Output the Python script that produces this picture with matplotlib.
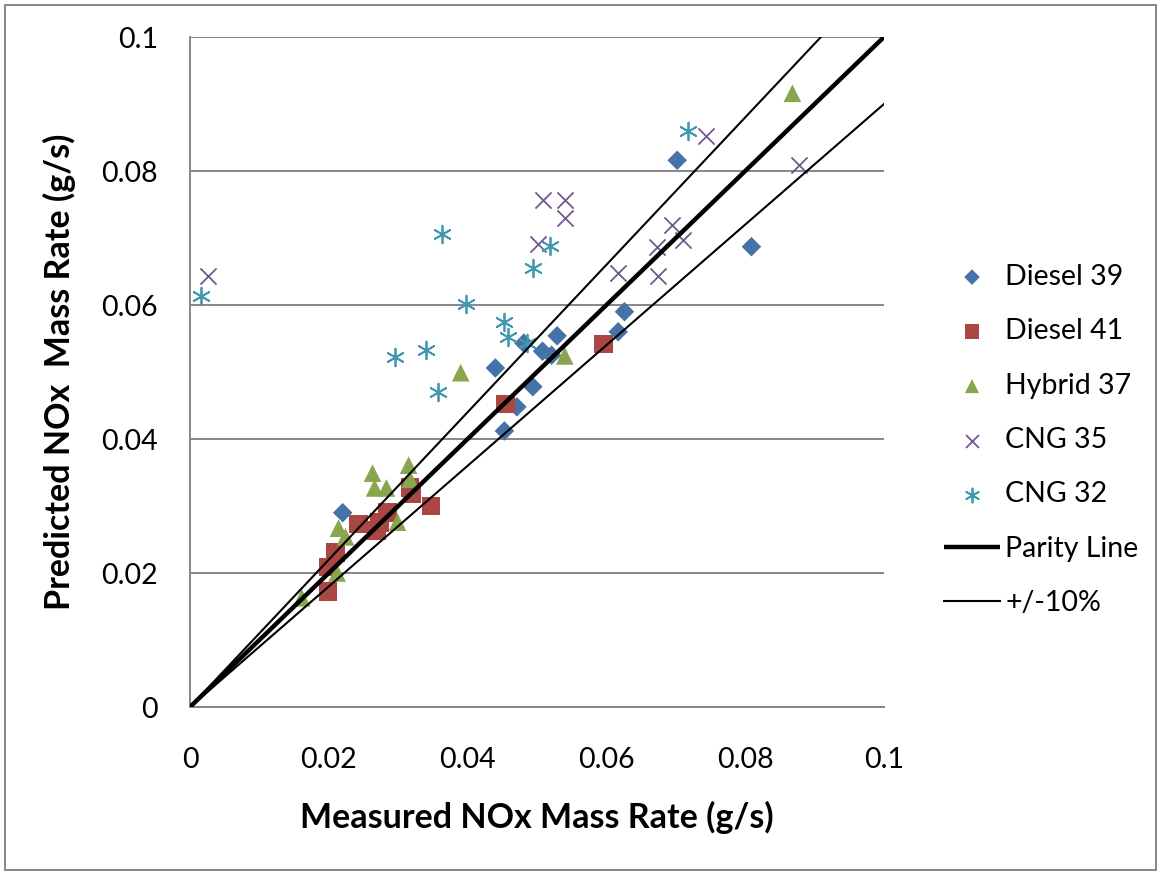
import matplotlib
matplotlib.use("Agg")
import matplotlib.pyplot as plt
from matplotlib.patches import Rectangle
import numpy as np

plt.rcParams['font.family'] = ['Lato', 'DejaVu Sans']

# Measured vs predicted NOx mass rate (g/s) per vehicle
diesel39_x = [0.0220, 0.0440, 0.0481, 0.0529, 0.0508, 0.0521, 0.0494, 0.0471, 0.0453,
              0.0617, 0.0626, 0.0702, 0.0809]
diesel39_y = [0.0290, 0.0506, 0.0543, 0.0554, 0.0531, 0.0525, 0.0478, 0.0448, 0.0412,
              0.0560, 0.0590, 0.0816, 0.0687]

diesel41_x = [0.0317, 0.0320, 0.0347, 0.0285, 0.0243, 0.0273, 0.0269, 0.0210, 0.0199,
              0.0199, 0.0455, 0.0596]
diesel41_y = [0.0328, 0.0318, 0.0300, 0.0290, 0.0273, 0.0275, 0.0263, 0.0231, 0.0209,
              0.0172, 0.0452, 0.0542]

hybrid37_x = [0.0263, 0.0315, 0.0266, 0.0283, 0.0317, 0.0299, 0.0214, 0.0224, 0.0212,
              0.0161, 0.0390, 0.0540, 0.0868]
hybrid37_y = [0.0349, 0.0361, 0.0327, 0.0327, 0.0340, 0.0276, 0.0267, 0.0254, 0.0200,
              0.0163, 0.0499, 0.0524, 0.0916]

cng35_x = [0.0026, 0.0508, 0.0540, 0.0540, 0.0502, 0.0744, 0.0878, 0.0694, 0.0673,
           0.0711, 0.0617, 0.0675]
cng35_y = [0.0643, 0.0757, 0.0757, 0.0730, 0.0691, 0.0852, 0.0809, 0.0719, 0.0687,
           0.0697, 0.0648, 0.0643]

cng32_x = [0.0016, 0.0363, 0.0397, 0.0295, 0.0340, 0.0358, 0.0519, 0.0494, 0.0452,
           0.0458, 0.0486, 0.0717]
cng32_y = [0.0613, 0.0706, 0.0601, 0.0522, 0.0533, 0.0470, 0.0688, 0.0655, 0.0575,
           0.0552, 0.0543, 0.0860]

x_ticks = [0, 0.02, 0.04, 0.06, 0.08, 0.1]
tick_labels = ['0', '0.02', '0.04', '0.06', '0.08', '0.1']
axis_max = 0.1
band = 0.10

fig = plt.figure(figsize=(11.61, 8.74), dpi=100)
ax = fig.add_axes([190 / 1161, 1 - 707 / 874, 694 / 1161, 670 / 874])

ms = 9
ax.scatter(diesel39_x, diesel39_y, marker='D', s=ms * 11, color='#4572A7',
           edgecolors='none', label='Diesel 39', zorder=3)
ax.scatter(diesel41_x, diesel41_y, marker='s', s=ms * 20, color='#AA4643',
           edgecolors='none', label='Diesel 41', zorder=3)
ax.scatter(hybrid37_x, hybrid37_y, marker='^', s=ms * 18, color='#89A54E',
           edgecolors='none', label='Hybrid 37', zorder=3)
ax.scatter(cng35_x, cng35_y, marker='x', s=ms * 15, color='#71588F',
           linewidths=1.3, label='CNG 35', zorder=3)
ax.scatter(cng32_x, cng32_y, marker=(6, 2, 0), s=ms * 18, color='#4198AF',
           linewidths=1.3, label='CNG 32', zorder=3)

# Parity line and +/-10% band
xx = np.array([0, axis_max])
ax.plot(xx, xx, color='black', lw=3.2, label='Parity Line', zorder=4,
        solid_capstyle='butt')
ax.plot(xx, xx * (1 + band), color='black', lw=1.5, label='+/-10%', zorder=4)
ax.plot(xx, xx * (1 - band), color='black', lw=1.5, zorder=4)

ax.set_xlim(0, axis_max)
ax.set_ylim(0, axis_max)
ax.set_xticks(x_ticks)
ax.set_xticklabels(tick_labels)
ax.set_yticks(x_ticks)
ax.set_yticklabels(tick_labels)
ax.tick_params(axis='both', length=0, labelsize=20.5)
ax.tick_params(axis='x', pad=29)
ax.tick_params(axis='y', pad=23)

ax.yaxis.grid(True, color='#868686', lw=1.4)
ax.set_axisbelow(True)
for side in ['top', 'right']:
    ax.spines[side].set_visible(False)
for side in ['left', 'bottom']:
    ax.spines[side].set_color('#868686')
    ax.spines[side].set_linewidth(1.4)

ax.set_xlabel('Measured NOx Mass Rate (g/s)', fontsize=24.5, fontweight='bold',
              labelpad=20)
ax.set_ylabel('Predicted NOx  Mass Rate (g/s)', fontsize=24.5, fontweight='bold',
              labelpad=18)

leg = ax.legend(loc='center left', bbox_to_anchor=(930 / 1161, 1 - 440 / 874),
                bbox_transform=fig.transFigure, frameon=False, fontsize=20.5,
                handlelength=1.95, handletextpad=0.2, labelspacing=1.0,
                borderpad=0, markerscale=0.8)

fig.patches.append(Rectangle((5 / 1161, 4 / 874), 1151 / 1161, 865 / 874,
                             transform=fig.transFigure, fill=False,
                             edgecolor='#868686', lw=1.4))

fig.savefig('out.png', dpi=100)
